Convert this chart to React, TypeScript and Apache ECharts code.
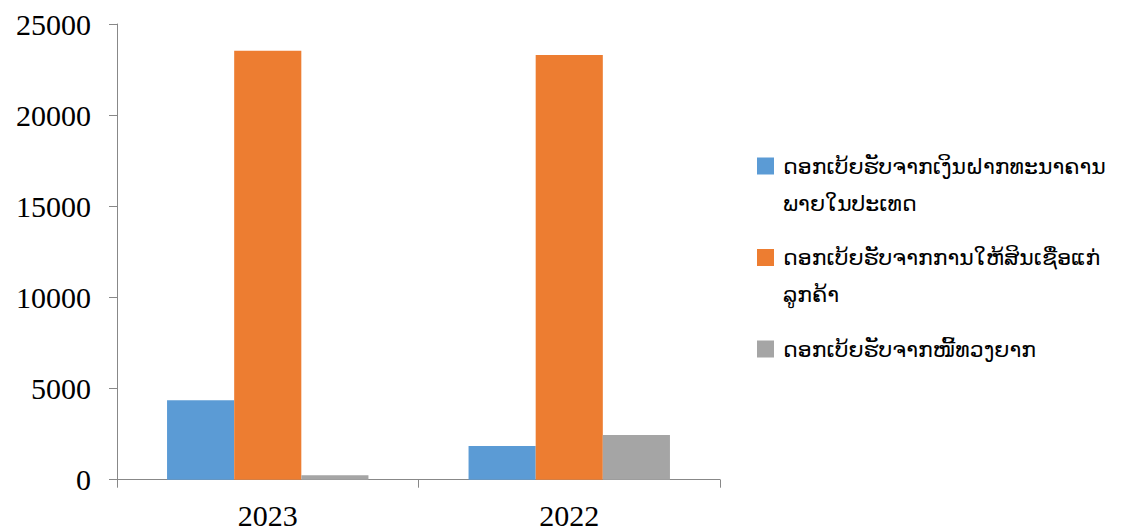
import React, { useEffect, useRef } from "react";
import * as echarts from "echarts";

const categories = ["2023", "2022"];
const seriesNames = [
  "ດອກເບ້ຍຮັບຈາກເງິນຝາກທະນາຄານ\nພາຍໃນປະເທດ",
  "ດອກເບ້ຍຮັບຈາກການໃຫ້ສິນເຊື່ອແກ່\nລູກຄ້າ",
  "ດອກເບ້ຍຮັບຈາກໜີ້ທວງຍາກ",
];
const depositInterest = [4356, 1849];
const loanInterest = [23535, 23299];
const badDebtInterest = [241, 2452];
const seriesColors = ["#5B9BD5", "#ED7D31", "#A5A5A5"];

export default function App() {
  const ref = useRef<HTMLDivElement>(null);
  useEffect(() => {
    document.body.style.margin = "0";
    const chart = echarts.init(ref.current!, null, { renderer: "svg" });
    const values = [depositInterest, loanInterest, badDebtInterest];
    const legendTop = [166, 257.5, 349];
    const legendGraphics: any[] = [];
    seriesNames.forEach((name, i) => {
      legendGraphics.push({
        type: "rect",
        shape: { x: 757, y: legendTop[i] - 8.5, width: 17, height: 17 },
        style: { fill: seriesColors[i] },
      });
      legendGraphics.push({
        type: "text",
        x: 783,
        y: legendTop[i] - 18.5,
        style: {
          text: name,
          fill: "#000",
          font: '22px "DejaVu Sans", "Noto Sans", sans-serif',
          lineHeight: 37,
          verticalAlign: "top",
          align: "left",
        },
      });
    });
    chart.setOption({
      animation: false,
      grid: { left: 117, top: 24, right: 401, bottom: 51.3, containLabel: false },
      xAxis: {
        type: "category",
        data: categories,
        axisLine: { lineStyle: { color: "#888888", width: 1 } },
        axisTick: { show: true, length: 8, lineStyle: { color: "#888888" } },
        axisLabel: {
          color: "#000",
          fontFamily: '"Liberation Serif", "Times New Roman", serif',
          fontSize: 30,
          margin: 21,
        },
      },
      yAxis: {
        type: "value",
        min: 0,
        max: 25000,
        interval: 5000,
        splitLine: { show: false },
        axisLine: { show: true, lineStyle: { color: "#888888", width: 1 } },
        axisTick: { show: true, length: 8, lineStyle: { color: "#888888" } },
        axisLabel: {
          color: "#000",
          fontFamily: '"Liberation Serif", "Times New Roman", serif',
          fontSize: 30,
          margin: 26,
          formatter: (v: number) => String(v),
        },
      },
      series: seriesNames.map((name, i) => ({
        name,
        type: "bar",
        data: values[i],
        itemStyle: { color: seriesColors[i] },
        barGap: "0%",
        barCategoryGap: "33.2%",
      })),
      graphic: legendGraphics,
    });
    return () => chart.dispose();
  }, []);
  return <div ref={ref} style={{ width: 1121, height: 531 }} />;
}
